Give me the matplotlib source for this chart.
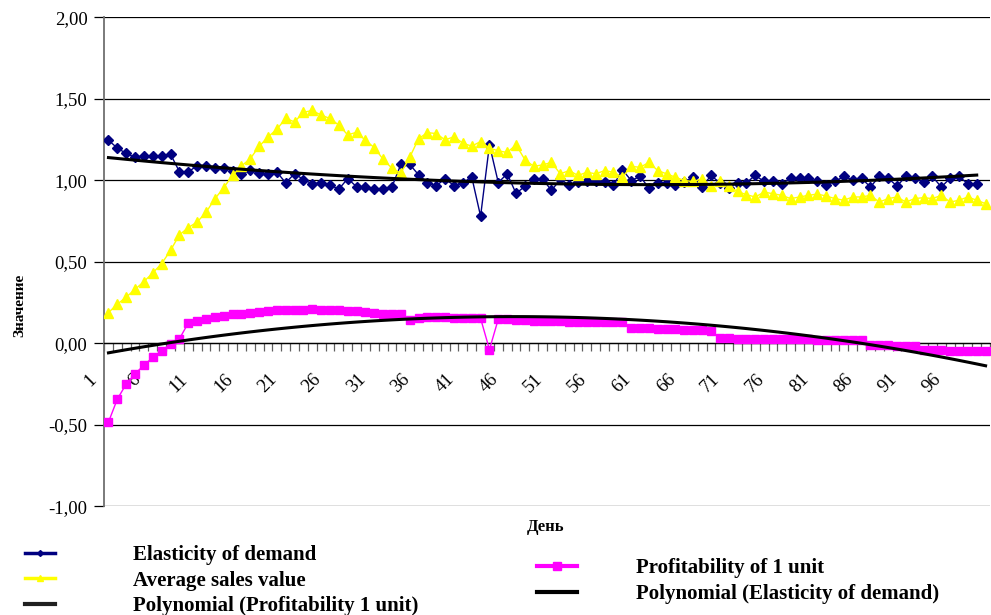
import numpy as np
import matplotlib.pyplot as plt
import matplotlib.transforms as mtransforms
from matplotlib.ticker import FuncFormatter
from matplotlib.lines import Line2D

plt.rcParams['font.family'] = ['Liberation Serif', 'DejaVu Serif']

# daily values, day 1..N
elasticity = [
    1.245, 1.197, 1.164, 1.140, 1.148, 1.150, 1.150, 1.160, 1.053, 1.050,
    1.089, 1.090, 1.073, 1.077, 1.059, 1.039, 1.060, 1.043, 1.035, 1.050,
    0.984, 1.040, 1.004, 0.978, 0.984, 0.970, 0.945, 1.010, 0.960, 0.958,
    0.944, 0.948, 0.960, 1.097, 1.097, 1.033, 0.985, 0.967, 1.008, 0.967,
    0.984, 1.020, 0.779, 1.217, 0.985, 1.040, 0.919, 0.962, 1.008, 1.008,
    0.937, 1.005, 0.970, 0.990, 0.992, 0.995, 0.990, 0.968, 1.065, 0.998,
    1.023, 0.952, 0.984, 0.984, 0.968, 0.990, 1.018, 0.958, 1.029, 0.985,
    0.952, 0.985, 0.984, 1.030, 0.992, 0.992, 0.978, 1.012, 1.012, 1.012,
    0.992, 0.972, 0.992, 1.023, 1.002, 1.012, 0.958, 1.023, 1.012, 0.964,
    1.023, 1.012, 0.988, 1.023, 0.958, 1.012, 1.023, 0.978, 0.978,
]

avg_sales = [
    0.188, 0.239, 0.283, 0.330, 0.378, 0.431, 0.488, 0.569, 0.664, 0.709,
    0.743, 0.802, 0.885, 0.954, 1.029, 1.087, 1.132, 1.207, 1.265, 1.312,
    1.379, 1.358, 1.416, 1.428, 1.399, 1.379, 1.338, 1.278, 1.294, 1.245,
    1.200, 1.128, 1.073, 1.043, 1.140, 1.255, 1.292, 1.286, 1.247, 1.267,
    1.227, 1.209, 1.237, 1.197, 1.180, 1.170, 1.217, 1.126, 1.085, 1.094,
    1.109, 1.039, 1.059, 1.029, 1.049, 1.039, 1.059, 1.049, 1.018, 1.085,
    1.079, 1.109, 1.059, 1.039, 1.018, 0.998, 0.992, 1.008, 0.964, 0.998,
    0.964, 0.931, 0.911, 0.897, 0.927, 0.917, 0.907, 0.887, 0.897, 0.907,
    0.915, 0.903, 0.887, 0.877, 0.897, 0.897, 0.907, 0.866, 0.887, 0.897,
    0.866, 0.887, 0.893, 0.887, 0.907, 0.866, 0.877, 0.897, 0.877, 0.856,
]

profit = [
    -0.484, -0.343, -0.251, -0.187, -0.136, -0.087, -0.045, -0.008, 0.026, 0.123,
    0.135, 0.148, 0.158, 0.168, 0.176, 0.182, 0.188, 0.194, 0.198, 0.202,
    0.204, 0.204, 0.206, 0.207, 0.205, 0.204, 0.202, 0.198, 0.196, 0.192,
    0.188, 0.182, 0.178, 0.176, 0.144, 0.154, 0.158, 0.158, 0.158, 0.156,
    0.154, 0.152, 0.152, -0.039, 0.148, 0.148, 0.144, 0.140, 0.135, 0.134,
    0.134, 0.133, 0.132, 0.131, 0.131, 0.130, 0.129, 0.127, 0.127, 0.091,
    0.091, 0.092, 0.090, 0.088, 0.085, 0.083, 0.081, 0.079, 0.077, 0.030,
    0.029, 0.028, 0.027, 0.026, 0.025, 0.025, 0.024, 0.024, 0.023, 0.023,
    0.022, 0.022, 0.021, 0.020, 0.020, 0.019, -0.010, -0.010, -0.014, -0.015,
    -0.015, -0.018, -0.039, -0.039, -0.043, -0.045, -0.047, -0.047, -0.049, -0.051,
]

label_days = list(range(1, 100, 5))
y_ticks = [-1.0, -0.5, 0.0, 0.5, 1.0, 1.5, 2.0]

days_e = np.arange(1, len(elasticity) + 1)
days = np.arange(1, len(avg_sales) + 1)

fig = plt.figure(figsize=(9.91, 6.15), dpi=100)
ax = fig.add_axes([0.105, 0.177, 0.894, 0.795])

ax.plot(days_e, elasticity, color='#000080', lw=1, marker='D', ms=5.5, zorder=3)
ax.plot(days, profit, color='#FF00FF', lw=1, marker='s', ms=5.8, zorder=3)
ax.plot(days, avg_sales, color='#FFFF00', lw=1, marker='^', ms=6.5, zorder=3)

# 2nd order polynomial trends
ce = np.polyfit(days_e, elasticity, 2)
cp = np.polyfit(days, profit, 2)
ax.plot(days_e, np.polyval(ce, days_e), color='black', lw=2.2, zorder=4)
ax.plot(days, np.polyval(cp, days), color='black', lw=2.2, zorder=4)

ax.set_xlim(0.5, 100.5)
ax.set_ylim(-1, 2)

ax.set_yticks(y_ticks)
ax.yaxis.set_major_formatter(FuncFormatter(lambda v, p: f'{v:.2f}'.replace('.', ',')))
ax.yaxis.grid(True, color='black', lw=0.9)
ax.set_axisbelow(True)
ax.tick_params(axis='y', length=7, width=0.9, pad=5, labelsize=13.5)

for s in ['top', 'right']:
    ax.spines[s].set_visible(False)
ax.spines['left'].set_color('#707070')
ax.spines['left'].set_linewidth(1.3)
ax.spines['bottom'].set_position(('data', 0))
ax.spines['bottom'].set_linewidth(0.9)

# tick marks between categories, labels on every 5th day
ax.set_xticks(np.arange(0.5, 101, 1))
ax.set_xticklabels([])
ax.tick_params(axis='x', which='major', length=6, width=0.9, color='#606060', direction='out')
ax.set_xticks(label_days, minor=True)
ax.set_xticklabels([str(d) for d in label_days], minor=True)
ax.tick_params(axis='x', which='minor', length=0, pad=20, labelsize=13.5, labelrotation=45)
shift = mtransforms.ScaledTranslation(-0.18, 0, fig.dpi_scale_trans)
for lbl in ax.get_xticklabels(minor=True):
    lbl.set_ha('center')
    lbl.set_transform(lbl.get_transform() + shift)

ax.set_ylabel('Значение', fontsize=11, fontweight='bold')
ax.yaxis.set_label_coords(-0.088, 0.41)
ax.set_xlabel('День', fontsize=12, fontweight='bold')
ax.xaxis.set_label_coords(0.498, -0.027)

h_el = Line2D([], [], color='#000080', lw=2.5, marker='D', ms=3)
h_av = Line2D([], [], color='#FFFF00', lw=2.5, marker='^', ms=5)
h_tp = Line2D([], [], color='#202020', lw=3)
h_pr = Line2D([], [], color='#FF00FF', lw=3, marker='s', ms=6)
h_te = Line2D([], [], color='black', lw=3)

leg_font = {'size': 15, 'weight': 'bold'}
leg1 = fig.legend([h_el, h_av, h_tp],
                  ['Elasticity of demand', 'Average sales value', 'Polynomial (Profitability 1 unit)'],
                  loc='upper left', bbox_to_anchor=(0.025, 0.114), frameon=False, prop=leg_font,
                  handlelength=1.45, handletextpad=3.75, labelspacing=0.27, borderpad=0, borderaxespad=0)
leg2 = fig.legend([h_pr, h_te],
                  ['Profitability of 1 unit', 'Polynomial (Elasticity of demand)'],
                  loc='upper left', bbox_to_anchor=(0.542, 0.092), frameon=False, prop=leg_font,
                  handlelength=1.92, handletextpad=2.84, labelspacing=0.27, borderpad=0, borderaxespad=0)

fig.savefig('out.png', dpi=100)
